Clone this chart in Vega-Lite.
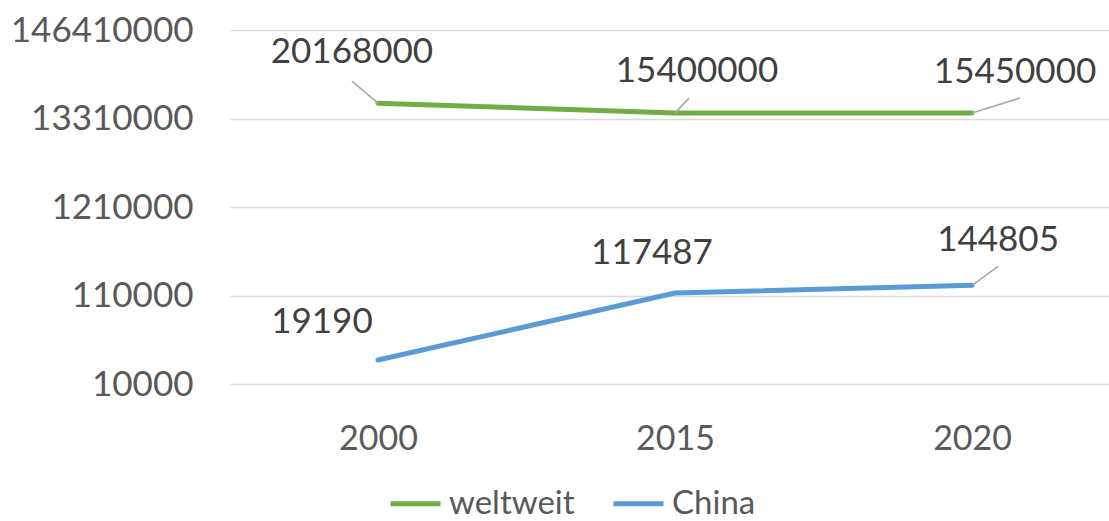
{
  "$schema": "https://vega.github.io/schema/vega-lite/v6.json",
  "autosize": {"type": "none"},
  "width": 890,
  "height": 354,
  "padding": {"left": 230, "top": 30, "right": -11, "bottom": 137},
  "background": "white",
  "config": {
    "view": {"stroke": null},
    "font": "Lato"
  },
  "data": {
    "values": [
      {"year": "2000", "series": "weltweit", "value": 20168000},
      {"year": "2015", "series": "weltweit", "value": 15400000},
      {"year": "2020", "series": "weltweit", "value": 15450000},
      {"year": "2000", "series": "China", "value": 19190},
      {"year": "2015", "series": "China", "value": 117487},
      {"year": "2020", "series": "China", "value": 144805}
    ]
  },
  "encoding": {
    "x": {
      "field": "year", "type": "ordinal",
      "scale": {"type": "point", "padding": 0.498},
      "axis": {
        "title": null, "domain": false, "ticks": false, "grid": false,
        "labelAngle": 0, "labelFontSize": 34, "labelColor": "#595959",
        "labelPadding": 38, "labelFont": "Lato"
      }
    },
    "y": {
      "field": "value", "type": "quantitative",
      "scale": {"type": "log", "base": 11, "domain": [10000, 146410000], "nice": false},
      "axis": {
        "title": null, "domain": false, "ticks": false,
        "values": [10000, 110000, 1210000, 13310000, 146410000],
        "format": "d", "labelFontSize": 35, "labelColor": "#595959",
        "labelLimit": 0, "labelPadding": 37, "gridColor": "#D9D9D9", "gridWidth": 1.5
      }
    }
  },
  "layer": [
    {
      "mark": {"type": "line", "strokeWidth": 5, "strokeCap": "round"},
      "encoding": {
        "color": {
          "field": "series", "type": "nominal",
          "scale": {"domain": ["weltweit", "China"], "range": ["#70AD47", "#5B9BD5"]},
          "legend": {
            "orient": "none", "legendX": 158, "legendY": 446,
            "direction": "horizontal", "title": null,
            "symbolType": "stroke", "symbolSize": 2500, "symbolStrokeWidth": 5,
            "labelFontSize": 33, "labelColor": "#595959", "labelOffset": 6,
            "columnPadding": 28
          }
        }
      }
    },
    {
      "transform": [{"filter": "datum.series == 'weltweit' && datum.year == '2000'"}],
      "mark": {"type": "rule", "color": "#A6A6A6", "strokeWidth": 1.5, "x2Offset": -26, "y2Offset": -22},
      "encoding": {"x2": {"field": "year"}, "y2": {"field": "value"}}
    },
    {
      "transform": [{"filter": "datum.series == 'weltweit' && datum.year == '2015'"}],
      "mark": {"type": "rule", "color": "#A6A6A6", "strokeWidth": 1.5, "x2Offset": 14, "y2Offset": -15},
      "encoding": {"x2": {"field": "year"}, "y2": {"field": "value"}}
    },
    {
      "transform": [{"filter": "datum.series == 'weltweit' && datum.year == '2020'"}],
      "mark": {"type": "rule", "color": "#A6A6A6", "strokeWidth": 1.5, "x2Offset": 48, "y2Offset": -15},
      "encoding": {"x2": {"field": "year"}, "y2": {"field": "value"}}
    },
    {
      "transform": [{"filter": "datum.series == 'China' && datum.year == '2020'"}],
      "mark": {"type": "rule", "color": "#A6A6A6", "strokeWidth": 1.5, "x2Offset": 26, "y2Offset": -19},
      "encoding": {"x2": {"field": "year"}, "y2": {"field": "value"}}
    },
    {
      "transform": [{"filter": "datum.series == 'weltweit' && datum.year == '2000'"}],
      "mark": {"type": "text", "fontSize": 35, "color": "#404040", "baseline": "middle", "dx": -26, "dy": -51},
      "encoding": {"text": {"field": "value", "type": "quantitative", "format": "d"}}
    },
    {
      "transform": [{"filter": "datum.series == 'weltweit' && datum.year == '2015'"}],
      "mark": {"type": "text", "fontSize": 35, "color": "#404040", "baseline": "middle", "dx": 22, "dy": -42},
      "encoding": {"text": {"field": "value", "type": "quantitative", "format": "d"}}
    },
    {
      "transform": [{"filter": "datum.series == 'weltweit' && datum.year == '2020'"}],
      "mark": {"type": "text", "fontSize": 35, "color": "#404040", "baseline": "middle", "dx": 43, "dy": -41},
      "encoding": {"text": {"field": "value", "type": "quantitative", "format": "d"}}
    },
    {
      "transform": [{"filter": "datum.series == 'China' && datum.year == '2000'"}],
      "mark": {"type": "text", "fontSize": 35, "color": "#404040", "baseline": "middle", "dx": -56, "dy": -38},
      "encoding": {"text": {"field": "value", "type": "quantitative", "format": "d"}}
    },
    {
      "transform": [{"filter": "datum.series == 'China' && datum.year == '2015'"}],
      "mark": {"type": "text", "fontSize": 35, "color": "#404040", "baseline": "middle", "dx": -23, "dy": -40},
      "encoding": {"text": {"field": "value", "type": "quantitative", "format": "d"}}
    },
    {
      "transform": [{"filter": "datum.series == 'China' && datum.year == '2020'"}],
      "mark": {"type": "text", "fontSize": 35, "color": "#404040", "baseline": "middle", "dx": 26, "dy": -45},
      "encoding": {"text": {"field": "value", "type": "quantitative", "format": "d"}}
    }
  ]
}
